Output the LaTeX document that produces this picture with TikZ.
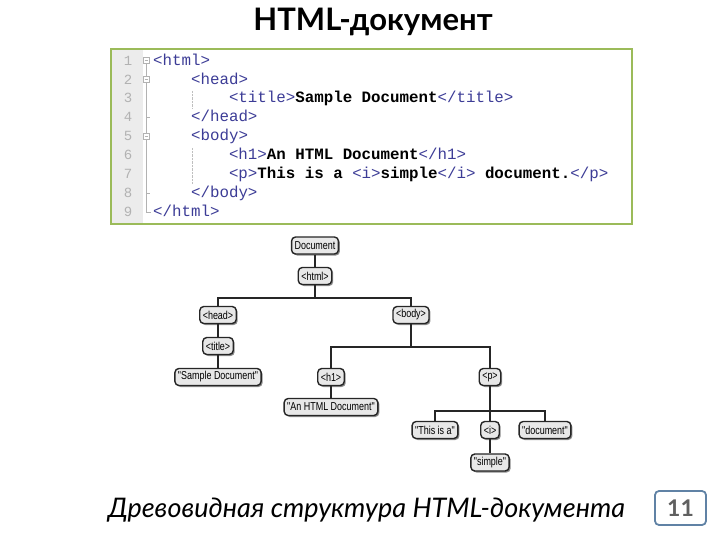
\documentclass[tikz,border=0pt]{standalone}
\usepackage{fontspec}
\setmainfont{Lato}
\newfontfamily\codefont{Liberation Mono}
\newfontfamily\treefont[FakeStretch=0.78]{Liberation Sans}
\usepackage{xcolor}
\usetikzlibrary{shadows}
\definecolor{codegreen}{RGB}{155,187,89}
\definecolor{tagblue}{RGB}{60,60,150}
\definecolor{numbox}{RGB}{96,130,165}
\newcommand{\codetag}[1]{{\color{tagblue}#1}}

\begin{document}
\begin{tikzpicture}[x=1pt,y=-1pt,
  tnode/.style={draw=black!85, line width=1.4pt, rounded corners=4pt, fill=gray!18, drop shadow={shadow xshift=1.5pt,shadow yshift=-1.5pt,fill=black,opacity=0.45}, font=\treefont\fontsize{11.5}{13}\selectfont, minimum height=17pt, inner xsep=3pt, inner ysep=0pt},
  codeln/.style={anchor=base west, inner sep=0pt, font=\codefont\fontsize{15.8}{18}\selectfont},
  lnum/.style={anchor=base, inner sep=0pt, text=gray!60, font=\codefont\fontsize{14}{16}\selectfont},
  treeline/.style={line width=1.8pt, black!85}]
  \useasboundingbox (0,0) rectangle (720,540);
  \node[anchor=base, font=\bfseries\fontsize{31}{35}\selectfont] (title) at (373,31) {HTML-документ};
  \fill[gray!15] (112,50) rectangle (143,223); \draw[codegreen, line width=2.5pt] (111,49) rectangle (632,224);
  \foreach \n in {1,...,9} \node[lnum] (ln\n) at (128,{65.2+18.9*(\n-1)}) {\n};
  \draw[gray!60] (146,61) -- (146,211.9) -- (151,211.9); \draw[gray!60] (146,117.4) -- (150,117.4); \draw[gray!60] (146,193) -- (150,193);
  \foreach \y in {60.7,79.6,136.3} {\draw[gray!60, fill=white] (143,\y-3) rectangle (149,\y+3); \draw[gray!60] (144.5,\y) -- (147.5,\y);}
  \draw[gray!50, densely dotted] (192,91) -- (192,108); \draw[gray!50, densely dotted] (192,148) -- (192,184);
  \node[codeln] (c1) at (153,65.2) {\codetag{<html>}};
  \node[codeln] (c2) at (190.9,84.1) {\codetag{<head>}};
  \node[codeln] (c3) at (228.8,103) {\codetag{<title>}\textbf{Sample Document}\codetag{</title>}};
  \node[codeln] (c4) at (190.9,121.9) {\codetag{</head>}};
  \node[codeln] (c5) at (190.9,140.8) {\codetag{<body>}};
  \node[codeln] (c6) at (228.8,159.7) {\codetag{<h1>}\textbf{An HTML Document}\codetag{</h1>}};
  \node[codeln] (c7) at (228.8,178.6) {\codetag{<p>}\textbf{This is a }\codetag{<i>}\textbf{simple}\codetag{</i>}\textbf{ document.}\codetag{</p>}};
  \node[codeln] (c8) at (190.9,197.5) {\codetag{</body>}};
  \node[codeln] (c9) at (153,216.4) {\codetag{</html>}};
  \node[tnode] (doc) at (315,245.5) {Document}; \node[tnode] (html) at (315,276) {<html>};
  \node[tnode] (head) at (218,315) {<head>}; \node[tnode] (body) at (411,315) {<body>};
  \node[tnode] (titl) at (218,346) {<title>}; \node[tnode] (sample) at (218,377) {"Sample Document"};
  \node[tnode] (h1) at (331,377) {<h1>}; \node[tnode] (anhtml) at (331,407) {"An HTML Document"};
  \node[tnode] (p) at (490,377) {<p>};
  \node[tnode] (thisis) at (435,430) {"This is a"}; \node[tnode] (inode) at (490,430) {<i>}; \node[tnode] (docword) at (545,430) {"document"};
  \node[tnode] (simple) at (490,462.5) {"simple"};
  \draw[treeline] (doc) -- (html); \draw[treeline] (html.south) -- ++(0,13) -| (head.north); \draw[treeline] (html.south) -- ++(0,13) -| (body.north);
  \draw[treeline] (head) -- (titl); \draw[treeline] (titl) -- (sample);
  \draw[treeline] (body.south) -- ++(0,23) -| (h1.north); \draw[treeline] (body.south) -- ++(0,23) -| (p.north); \draw[treeline] (h1) -- (anhtml);
  \draw[treeline] (p.south) -- ++(0,25) -| (thisis.north); \draw[treeline] (p.south) -- ++(0,25) -| (docword.north); \draw[treeline] (p) -- (inode); \draw[treeline] (inode) -- (simple);
  \node[anchor=base, font=\itshape\fontsize{27}{31}\selectfont] (caption) at (366.5,517) {Древовидная структура HTML-документа};
  \node[draw=numbox, line width=1.8pt, rounded corners=4pt, minimum width=51pt, minimum height=34pt, text=gray!75!black, font=\bfseries\fontsize{23}{26}\selectfont] (page) at (680.5,508) {11};
\end{tikzpicture}
\end{document}
